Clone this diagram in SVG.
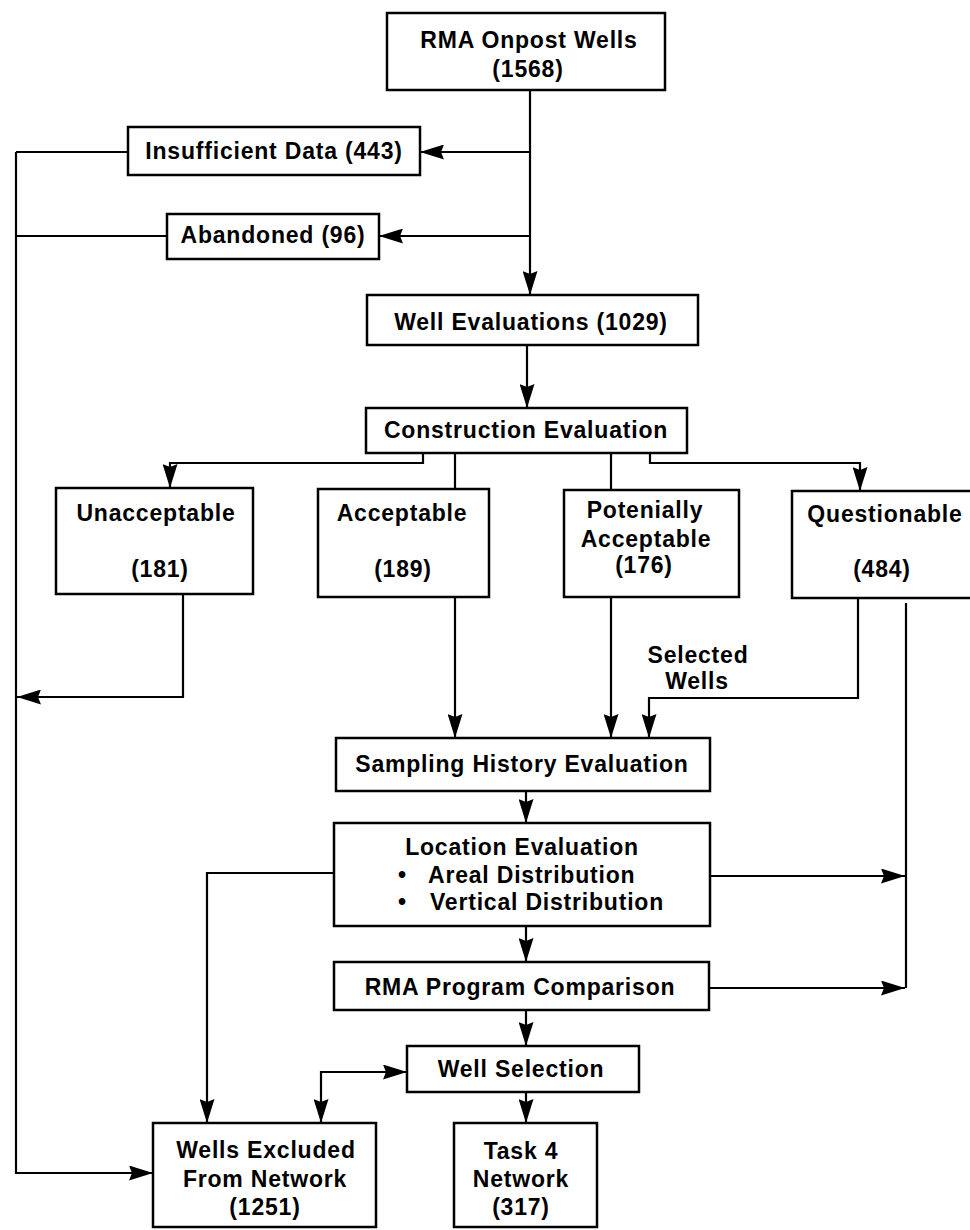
<svg xmlns="http://www.w3.org/2000/svg" width="970" height="1230" viewBox="0 0 970 1230">
<style>
.box{fill:#fff;stroke:#000;stroke-width:2.5}
.t{font-family:"Liberation Sans",Arial,sans-serif;font-weight:bold;font-size:23px;letter-spacing:0.8px;fill:#000;text-anchor:middle}
.ts{font-family:"Liberation Sans",Arial,sans-serif;font-weight:bold;font-size:23px;letter-spacing:0.8px;fill:#000}
.c{fill:none;stroke:#000;stroke-width:2.2}
.a{marker-end:url(#ah)}
</style>
<defs>
<marker id="ah" markerUnits="userSpaceOnUse" markerWidth="24" markerHeight="15" refX="24" refY="7.5" orient="auto-start-reverse" viewBox="0 0 24 15">
<path d="M0,0 L24,7.5 L0,15 L3,7.5 z" fill="#000"/>
</marker>
</defs>
<rect width="970" height="1230" fill="#fff"/>
<g id="connectors">
<line class="c a" x1="530" y1="90" x2="530" y2="295"/>
<line class="c a" x1="530" y1="152" x2="420" y2="152"/>
<line class="c a" x1="530" y1="236" x2="379" y2="236"/>
<line class="c" x1="128" y1="152" x2="16" y2="152"/>
<line class="c" x1="167" y1="236" x2="16" y2="236"/>
<polyline class="c a" points="16,152 16,1173 153,1173"/>
<line class="c a" x1="527" y1="345" x2="527" y2="408"/>
<polyline class="c a" points="423,453 423,463 170,463 170,488"/>
<line class="c" x1="455" y1="453" x2="455" y2="489"/>
<line class="c" x1="611" y1="453" x2="611" y2="490"/>
<polyline class="c a" points="650,453 650,463 860,463 860,491"/>
<polyline class="c a" points="183,594 183,697 17,697"/>
<line class="c a" x1="455" y1="597" x2="455" y2="738"/>
<line class="c a" x1="611" y1="597" x2="611" y2="738"/>
<polyline class="c a" points="858,598 858,698 649,698 649,738"/>
<line class="c" x1="906" y1="603" x2="906" y2="988"/>
<line class="c a" x1="526" y1="791" x2="526" y2="823"/>
<polyline class="c a" points="334,873 207,873 207,1123"/>
<line class="c a" x1="710" y1="876" x2="905" y2="876"/>
<line class="c a" x1="526" y1="926" x2="526" y2="962"/>
<line class="c a" x1="709" y1="988" x2="905" y2="988"/>
<line class="c a" x1="526" y1="1010" x2="526" y2="1046"/>
<polyline class="c a" points="321,1123 321,1072 407,1072" style="marker-start:url(#ah)"/>
<line class="c a" x1="526" y1="1092" x2="526" y2="1123"/>
</g>
<g id="rma-onpost">
<rect class="box" x="387" y="13" width="278" height="77"/>
<text class="t" x="529" y="48">RMA Onpost Wells</text>
<text class="t" x="528" y="77">(1568)</text>
</g>
<g id="insufficient">
<rect class="box" x="128" y="127" width="292" height="48"/>
<text class="t" x="274" y="159">Insufficient Data (443)</text>
</g>
<g id="abandoned">
<rect class="box" x="167" y="214" width="212" height="45"/>
<text class="t" x="273" y="243">Abandoned (96)</text>
</g>
<g id="well-evaluations">
<rect class="box" x="367" y="295" width="331" height="50"/>
<text class="t" x="531" y="330">Well Evaluations (1029)</text>
</g>
<g id="construction">
<rect class="box" x="366" y="408" width="321" height="45"/>
<text class="t" x="526" y="438">Construction Evaluation</text>
</g>
<g id="unacceptable">
<rect class="box" x="56" y="488" width="197" height="106"/>
<text class="t" x="156" y="521">Unacceptable</text>
<text class="t" x="160" y="577">(181)</text>
</g>
<g id="acceptable">
<rect class="box" x="318" y="489" width="171" height="108"/>
<text class="t" x="402" y="521">Acceptable</text>
<text class="t" x="403" y="577">(189)</text>
</g>
<g id="potentially">
<rect class="box" x="564" y="490" width="175" height="107"/>
<text class="t" x="645" y="518">Potenially</text>
<text class="t" x="646" y="547">Acceptable</text>
<text class="t" x="644" y="573">(176)</text>
</g>
<g id="questionable">
<rect class="box" x="792" y="491" width="186" height="107"/>
<text class="t" x="885" y="522">Questionable</text>
<text class="t" x="882" y="577">(484)</text>
</g>
<g id="selected-wells-label">
<text class="t" x="698" y="663">Selected</text>
<text class="t" x="697" y="689">Wells</text>
</g>
<g id="sampling">
<rect class="box" x="336" y="738" width="374" height="53"/>
<text class="t" x="522" y="772">Sampling History Evaluation</text>
</g>
<g id="location">
<rect class="box" x="334" y="823" width="376" height="103"/>
<text class="t" x="522" y="855">Location Evaluation</text>
<text class="ts" x="398" y="883">•<tspan x="428">Areal Distribution</tspan></text>
<text class="ts" x="398" y="910">•<tspan x="430">Vertical Distribution</tspan></text>
</g>
<g id="rma-program">
<rect class="box" x="334" y="962" width="375" height="48"/>
<text class="t" x="520" y="995">RMA Program Comparison</text>
</g>
<g id="well-selection">
<rect class="box" x="407" y="1046" width="232" height="46"/>
<text class="t" x="521" y="1077">Well Selection</text>
</g>
<g id="wells-excluded">
<rect class="box" x="153" y="1123" width="223" height="104"/>
<text class="t" x="266" y="1158">Wells Excluded</text>
<text class="t" x="265" y="1187">From Network</text>
<text class="t" x="265" y="1215">(1251)</text>
</g>
<g id="task4">
<rect class="box" x="454" y="1123" width="143" height="104"/>
<text class="t" x="521" y="1159">Task 4</text>
<text class="t" x="521" y="1187">Network</text>
<text class="t" x="521" y="1215">(317)</text>
</g>
</svg>
